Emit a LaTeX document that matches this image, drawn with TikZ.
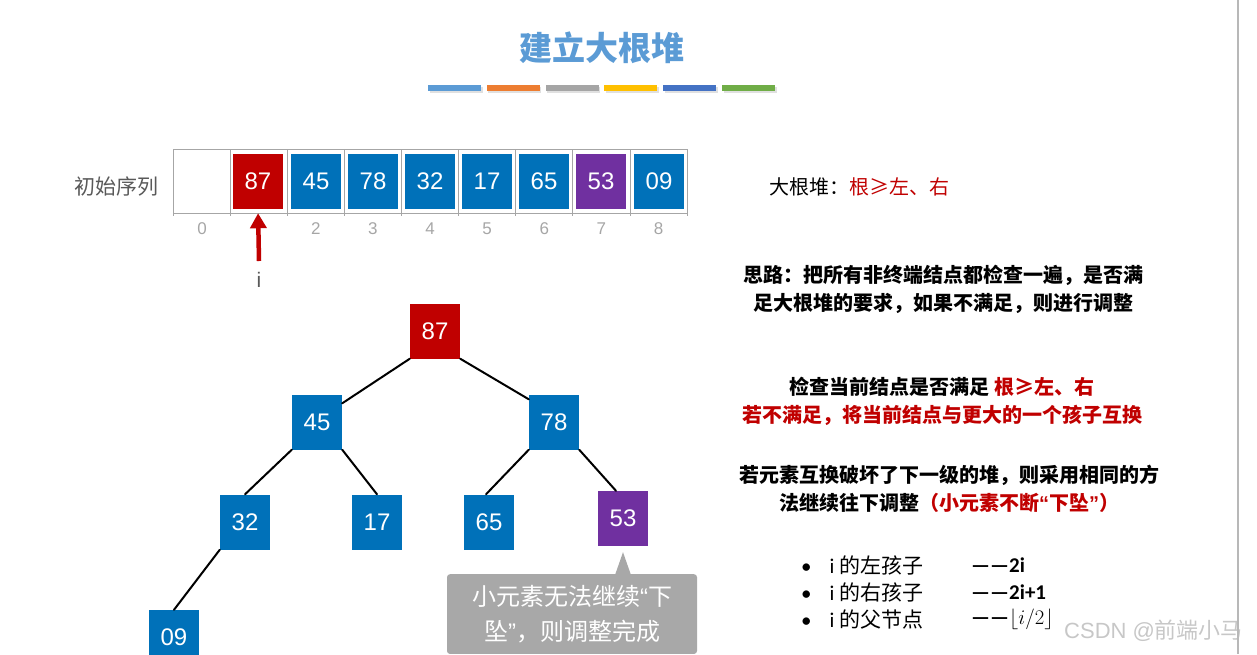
\documentclass[tikz,border=0pt]{standalone}
\usepackage{fontspec}
\setmainfont{Liberation Sans}
\newfontfamily\cjk{Noto Sans CJK SC}
\newfontfamily\calib{Carlito}
\usepackage{xcolor}
\usetikzlibrary{calc, arrows.meta}

\definecolor{keyRed}{HTML}{C00000}
\definecolor{keyBlue}{HTML}{0071B9}
\definecolor{keyPurple}{HTML}{7030A0}
\definecolor{titleBlue}{HTML}{5B9BD5}
\definecolor{barOrange}{HTML}{ED7D31}
\definecolor{barGray}{HTML}{A5A5A5}
\definecolor{barGold}{HTML}{FFC000}
\definecolor{barBlue}{HTML}{4472C4}
\definecolor{barGreen}{HTML}{70AD47}
\definecolor{gridGray}{HTML}{A6A6A6}
\definecolor{noteGray}{HTML}{A8A8A8}

\begin{document}
\begin{tikzpicture}[x=1pt, y=-1pt,
		key/.style={minimum width=50pt, minimum height=55pt, inner sep=0pt, text=white, font=\fontsize{24}{24}\selectfont},
		edge/.style={line width=2pt, line cap=round},
		grid/.style={gridGray, line width=1pt},
		idx/.style={text=gridGray, font=\fontsize{17}{17}\selectfont},
		rtext/.style={align=center, font=\cjk\bfseries\fontsize{20}{28}\selectfont},
		rule/.style={anchor=west, inner sep=0pt, font=\calib\fontsize{21}{21}\selectfont}]
	\useasboundingbox (0,0) rectangle (1257,654);

	\def\cw{57.125}
	\def\x0{173}

	\newcommand{\drawKey}[3]
	{
		\node [key, fill=#2] (#1) at #3
	}

	% title and colour bars
	\node [text=titleBlue, font=\cjk\bfseries\fontsize{33}{33}\selectfont] (title) at (602,48) {建立大根堆};
	\foreach \c [count=\n from 0] in {titleBlue, barOrange, barGray, barGold, barBlue, barGreen}
	{
		\fill [black!12] (429.5+58.8*\n,86.5) rectangle ++(53,6);
		\fill [\c] (428+58.8*\n,85) rectangle ++(53,6);
	}

	% initial sequence
	\node [text=black!65, font=\cjk\fontsize{21}{21}\selectfont] (seqLabel) at (116,187) {初始序列};
	\draw [grid] (\x0,149) rectangle (687,213);
	\foreach \k in {0,...,9}
		\draw [grid] (\x0+\cw*\k,149) -- (\x0+\cw*\k,216);

	\begin{scope}
		\drawKey{a1}{keyRed}{(258,181.5)} {87};
		\drawKey{a2}{keyBlue}{(316,181.5)} {45};
		\drawKey{a3}{keyBlue}{(373,181.5)} {78};
		\drawKey{a4}{keyBlue}{(430,181.5)} {32};
		\drawKey{a5}{keyBlue}{(487,181.5)} {17};
		\drawKey{a6}{keyBlue}{(544,181.5)} {65};
		\drawKey{a7}{keyPurple}{(601,181.5)} {53};
		\drawKey{a8}{keyBlue}{(659,181.5)} {09};
	\end{scope}

	\node [idx] (i0) at (202,229) {0};
	\foreach \k in {2,...,8}
		\node [idx] (i\k) at (\x0+\cw*\k+28.5,229) {\k};

	\node [text=black!65, font=\fontsize{21}{21}\selectfont] (ptr) at (259,280) {i};
	\coordinate (ptrTail) at (259,261);
	\draw [keyRed, line width=4.5pt, -{Triangle[width=16pt,length=15pt]}, shorten >=4pt] (ptrTail) -- (a1.south);

	% heap as a tree
	\begin{scope}
		\drawKey{h1}{keyRed}{(435,331)} {87};
		\drawKey{h2}{keyBlue}{(317,422)} {45};
		\drawKey{h3}{keyBlue}{(554,422)} {78};
		\drawKey{h4}{keyBlue}{(245,522)} {32};
		\drawKey{h5}{keyBlue}{(377,522)} {17};
		\drawKey{h6}{keyBlue}{(489,522)} {65};
		\drawKey{h7}{keyPurple}{(623,518.5)} {53};
		\drawKey{h8}{keyBlue}{(174,637.5)} {09};
	\end{scope}

	\begin{scope}[edge]
		\draw (h1.south west) -- ([yshift=-9pt]h2.north east);
		\draw (h1.south east) -- ([yshift=-5pt]h3.north west);
		\draw (h2.south west) -- (h4.north);
		\draw (h2.south east) -- (h5.north);
		\draw (h3.south west) -- ([xshift=-3pt]h6.north);
		\draw (h3.south east) -- ([xshift=-7pt]h7.north);
		\draw (h4.south west) -- (h8.north);
	\end{scope}

	% callout under 53
	\node [fill=noteGray, rounded corners=3pt, text=white, minimum width=250pt, inner xsep=8pt, inner ysep=11pt, anchor=north, align=center, font=\cjk\fontsize{24}{35}\selectfont] (note) at (572,574) {小元素无法继续{\rmfamily “}下\\坠{\rmfamily ”}，则调整完成};
	\coordinate (tip) at ([yshift=-6pt]h7.south);
	\fill [noteGray] (tip) -- ($(tip |- note.north)+(-8,1)$) -- ($(tip |- note.north)+(8,1)$) -- cycle;

	% notes on the right
	\node [anchor=west, inner sep=0pt, font=\cjk\fontsize{20}{20}\selectfont] (def) at (769,187) {大根堆：\textcolor{keyRed}{根≥左、右}};
	\node [rtext] (idea) at (943,289) {思路：把所有非终端结点都检查一遍，是否满\\足大根堆的要求，如果不满足，则进行调整};
	\node [rtext] (check) at (942,401) {检查当前结点是否满足 \textcolor{keyRed}{根≥左、右}\\\textcolor{keyRed}{若不满足，将当前结点与更大的一个孩子互换}};
	\node [rtext] (sink) at (949,489) {若元素互换破坏了下一级的堆，则采用相同的方\\法继续往下调整\textcolor{keyRed}{（小元素不断{\rmfamily “}下坠{\rmfamily ”}）}};

	\node [rule] (r1) at (801,565) {•\hspace{18pt}i {\cjk 的左孩子}};
	\node [rule] (r2) at (801,592) {•\hspace{18pt}i {\cjk 的右孩子}};
	\node [rule] (r3) at (801,619) {•\hspace{18pt}i {\cjk 的父节点}};
	\node [rule, font=\calib\bfseries\fontsize{21}{21}\selectfont] (v1) at (971,565) {——2i};
	\node [rule, font=\calib\bfseries\fontsize{21}{21}\selectfont] (v2) at (971,592) {——2i+1};
	\node [rule, font=\calib\bfseries\fontsize{21}{21}\selectfont] (v3) at (971,619) {——$\lfloor i/2\rfloor$};

	% watermark and page edge
	\node [anchor=west, inner sep=0pt, text=black!22, font=\fontsize{22}{22}\selectfont] (mark) at (1064,631) {CSDN @{\cjk 前端小马}};
	\draw [black!28, line width=1.5pt] (1238,0) -- (1238,654);
\end{tikzpicture}
\end{document}
